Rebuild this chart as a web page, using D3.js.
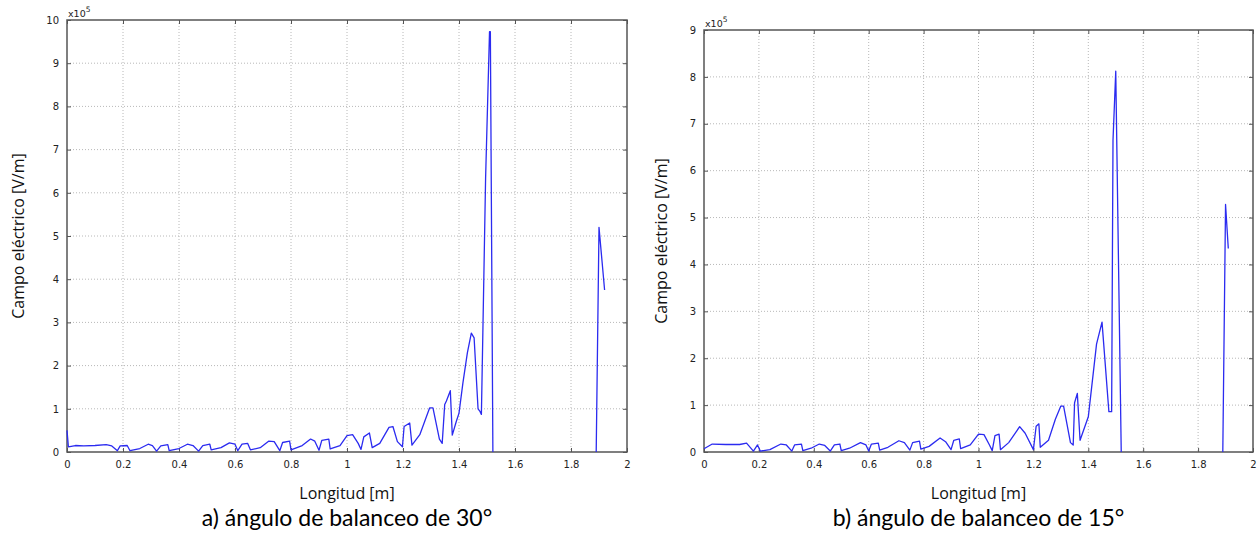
<!DOCTYPE html>
<html>
<head>
<meta charset="utf-8">
<script src="https://cdn.jsdelivr.net/npm/d3@7"></script>
<style>
  html, body { margin: 0; padding: 0; background: #fff; }
  svg { display: block; }
</style>
</head>
<body>
<svg id="chart" width="1258" height="533"></svg>
<script>
// ---- Data (values in units of 1e5 V/m) ----
const xTicks = [0, 0.2, 0.4, 0.6, 0.8, 1, 1.2, 1.4, 1.6, 1.8, 2];
const yTicksA = [0, 1, 2, 3, 4, 5, 6, 7, 8, 9, 10];
const yTicksB = [0, 1, 2, 3, 4, 5, 6, 7, 8, 9];

// a) 30 degrees
const longitudA = [0, 0.005, 0.03, 0.06, 0.1, 0.14, 0.16, 0.18, 0.19, 0.215, 0.225, 0.26, 0.29, 0.305, 0.32, 0.335, 0.36, 0.365,
  0.4, 0.43, 0.45, 0.47, 0.485, 0.51, 0.515, 0.55, 0.58, 0.6, 0.61, 0.625, 0.645, 0.655, 0.69, 0.72, 0.74, 0.76, 0.77, 0.795, 0.8,
  0.84, 0.87, 0.885, 0.9, 0.91, 0.935, 0.94, 0.975, 1.0, 1.02, 1.04, 1.05, 1.06, 1.08, 1.09, 1.117, 1.15, 1.164, 1.18, 1.198, 1.204,
  1.224, 1.232, 1.26, 1.277, 1.295, 1.307, 1.33, 1.34, 1.349, 1.355, 1.369, 1.376, 1.39, 1.4, 1.414, 1.43, 1.444, 1.454, 1.468,
  1.475, 1.48, 1.495, 1.509, 1.512, 1.521, null, 1.89, 1.9, 1.92];
const campoA = [0.5, 0.12, 0.15, 0.14, 0.15, 0.17, 0.14, 0.03, 0.14, 0.15, 0.03, 0.08, 0.18, 0.15, 0.02, 0.14, 0.17, 0.03,
  0.08, 0.18, 0.15, 0.02, 0.15, 0.18, 0.05, 0.1, 0.21, 0.18, 0.03, 0.18, 0.2, 0.05, 0.1, 0.25, 0.24, 0.03, 0.22, 0.25, 0.05,
  0.15, 0.3, 0.25, 0.04, 0.27, 0.3, 0.07, 0.15, 0.38, 0.4, 0.2, 0.06, 0.35, 0.44, 0.1, 0.2, 0.57, 0.59, 0.24, 0.12, 0.59,
  0.67, 0.16, 0.4, 0.7, 1.02, 1.02, 0.3, 0.2, 1.1, 1.18, 1.42, 0.39, 0.7, 0.9, 1.6, 2.3, 2.75, 2.64, 1.0,
  0.94, 0.87, 6.34, 9.73, 9.73, 0, null, 0, 5.2, 3.75];

// b) 15 degrees
const longitudB = [0, 0.03, 0.08, 0.13, 0.155, 0.18, 0.195, 0.205, 0.24, 0.28, 0.3, 0.32, 0.33, 0.355, 0.36, 0.39, 0.42, 0.44,
  0.46, 0.475, 0.495, 0.5, 0.53, 0.57, 0.59, 0.6, 0.61, 0.635, 0.64, 0.67, 0.71, 0.73, 0.75, 0.76, 0.785, 0.79, 0.82, 0.86, 0.88,
  0.9, 0.91, 0.93, 0.935, 0.97, 1.0, 1.02, 1.04, 1.05, 1.06, 1.075, 1.08, 1.11, 1.15, 1.17, 1.2, 1.21, 1.22, 1.225, 1.255, 1.28,
  1.3, 1.31, 1.335, 1.345, 1.35, 1.36, 1.37, 1.4, 1.43, 1.45, 1.475, 1.485, 1.49, 1.5, 1.52, null, 1.89, 1.9, 1.91];
const campoB = [0.07, 0.17, 0.16, 0.16, 0.19, 0.02, 0.15, 0.02, 0.05, 0.17, 0.15, 0.02, 0.15, 0.17, 0.03, 0.08, 0.17, 0.14,
  0.02, 0.15, 0.17, 0.03, 0.08, 0.2, 0.15, 0.02, 0.17, 0.19, 0.04, 0.1, 0.24, 0.2, 0.04, 0.2, 0.23, 0.06, 0.12, 0.3, 0.22,
  0.05, 0.25, 0.28, 0.07, 0.15, 0.38, 0.37, 0.15, 0.03, 0.35, 0.38, 0.05, 0.2, 0.54, 0.4, 0.05, 0.55, 0.6, 0.1, 0.25, 0.7,
  0.98, 0.98, 0.2, 0.15, 1.05, 1.25, 0.25, 0.75, 2.3, 2.77, 0.86, 0.86, 6.65, 8.12, 0, null, 0, 5.28, 4.34];

const xLabel = "Longitud [m]";
const yLabel = "Campo eléctrico [V/m]";
const captions = ["a) ángulo de balanceo de 30°", "b) ángulo de balanceo de 15°"];

const svg = d3.select("#chart");

function panel(opt) {
  const x = d3.scaleLinear().domain([0, 2]).range([opt.left, opt.right]);
  const y = d3.scaleLinear().domain([0, opt.ymax]).range([opt.bottom, opt.top]);
  const g = svg.append("g");
  const w = opt.right - opt.left, h = opt.bottom - opt.top;

  // grid
  g.append("g").selectAll("line").data(opt.xt.slice(1, -1)).join("line")
    .attr("x1", d => x(d)).attr("x2", d => x(d))
    .attr("y1", opt.top).attr("y2", opt.bottom)
    .attr("stroke", "#b8b8b8").attr("stroke-width", 1).attr("stroke-dasharray", "1,2");
  g.append("g").selectAll("line").data(opt.yt.slice(1, -1)).join("line")
    .attr("y1", d => y(d)).attr("y2", d => y(d))
    .attr("x1", opt.left).attr("x2", opt.right)
    .attr("stroke", "#b8b8b8").attr("stroke-width", 1).attr("stroke-dasharray", "1,2");

  // axes
  const xb = g.append("g").attr("transform", `translate(0,${opt.bottom})`)
    .call(d3.axisBottom(x).tickValues(opt.xt).tickSize(-4).tickPadding(9).tickFormat(d3.format("~g")));
  const xt = g.append("g").attr("transform", `translate(0,${opt.top})`)
    .call(d3.axisTop(x).tickValues(opt.xt).tickSize(-4).tickFormat(""));
  const yl = g.append("g").attr("transform", `translate(${opt.left},0)`)
    .call(d3.axisLeft(y).tickValues(opt.yt).tickSize(-4).tickPadding(8).tickFormat(d3.format("~g")));
  const yr = g.append("g").attr("transform", `translate(${opt.right},0)`)
    .call(d3.axisRight(y).tickValues(opt.yt).tickSize(-4).tickFormat(""));
  [xb, xt, yl, yr].forEach(a => {
    a.select(".domain").remove();
    a.selectAll(".tick line").attr("stroke", "#555");
    a.selectAll("text").attr("font-family", "'DejaVu Sans', Verdana, sans-serif")
      .attr("font-size", 10).attr("fill", "#222");
  });

  // frame
  g.append("rect").attr("x", opt.left).attr("y", opt.top).attr("width", w).attr("height", h)
    .attr("fill", "none").attr("stroke", "#555").attr("stroke-width", 1.5);

  // line
  const pts = opt.xs.map((v, i) => [v, opt.ys[i]]);
  const line = d3.line().defined(d => d[0] !== null && d[1] !== null)
    .x(d => x(d[0])).y(d => y(d[1]));
  g.append("path").attr("d", line(pts)).attr("fill", "none")
    .attr("stroke", "#2b2bf0").attr("stroke-width", 1.3).attr("stroke-linejoin", "round");

  // x10^5
  const ex = g.append("text").attr("x", opt.left + 1).attr("y", opt.top - 3)
    .attr("font-family", "'DejaVu Sans', Verdana, sans-serif").attr("font-size", 9.5).attr("fill", "#222");
  ex.append("tspan").text("x10");
  ex.append("tspan").attr("dy", -5).attr("font-size", 7.5).text("5");

  // axis titles
  const cx = (opt.left + opt.right) / 2;
  g.append("text").attr("x", cx).attr("y", 499).attr("text-anchor", "middle")
    .attr("font-family", "'Open Sans', Lato, sans-serif").attr("font-size", 16).attr("fill", "#111").text(xLabel);
  g.append("text").attr("transform", `translate(${opt.ylx},${(opt.top + opt.bottom) / 2}) rotate(-90)`)
    .attr("text-anchor", "middle")
    .attr("font-family", "'Open Sans', Lato, sans-serif").attr("font-size", 16).attr("fill", "#111").text(yLabel);

  // caption
  g.append("text").attr("x", cx).attr("y", 526).attr("text-anchor", "middle")
    .attr("font-family", "Lato, 'Open Sans', sans-serif").attr("font-size", 23).attr("fill", "#000").text(opt.caption);
}

panel({ left: 67, right: 627, top: 20, bottom: 452, ymax: 10, xt: xTicks, yt: yTicksA,
  xs: longitudA, ys: campoA, ylx: 24, caption: captions[0] });
panel({ left: 704, right: 1253, top: 30, bottom: 452, ymax: 9, xt: xTicks, yt: yTicksB,
  xs: longitudB, ys: campoB, ylx: 667, caption: captions[1] });
</script>
</body>
</html>
